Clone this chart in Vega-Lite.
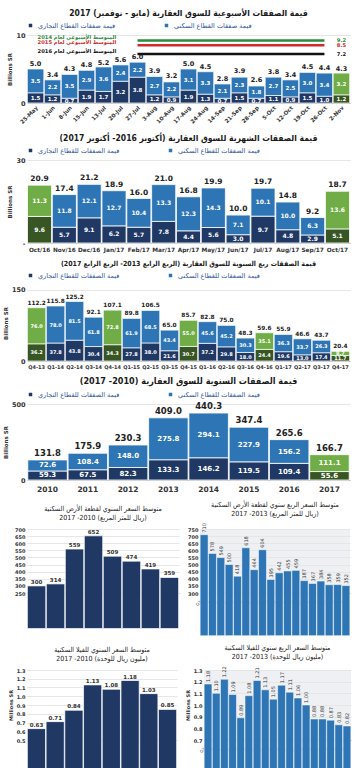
{
"$schema":"https://vega.github.io/schema/vega-lite/v6.json",
"background":"white",
"padding":{"left":3,"right":3,"top":8,"bottom":0},
"spacing":8,
"align":"each",
"resolve":{"scale":{"color":"independent"},"legend":{"color":"independent"}},
"config":{
 "view":{"stroke":null},
 "font":"DejaVu Sans",
 "axis":{"labelFont":"DejaVu Sans","titleFont":"DejaVu Sans","labelColor":"#333333","titleColor":"#333333","domain":false,"ticks":false,"gridColor":"#e6e6e6","titleFontWeight":"bold"},
 "axisX":{"grid":false,"domain":true,"domainColor":"#bbbbbb"},
 "title":{"font":"DejaVu Sans Condensed, DejaVu Sans","color":"#1a1a1a"},
 "legend":{"title":" ","titleOrient":"left","titlePadding":60,"titleFontSize":4,"orient":"top","direction":"horizontal","symbolType":"square","symbolSize":25,"labelFontSize":6.5,"labelColor":"#2e5597","columnPadding":45,"padding":0,"offset":4}
},
"vconcat":[
{
 "title":{"text":"قيمة الصفقات الأسبوعية للسوق العقارية (مايو - نوفمبر) 2017","fontSize":8.5,"fontWeight":"bold","offset":5},
 "width":323,"height":68,
 "data":{"values":[
  {"w":"25-May","com":1.5,"res":3.5,"total":5.0,"hl":false},
  {"w":"1-Jun","com":1.2,"res":2.2,"total":3.4,"hl":false},
  {"w":"8-Jun","com":0.7,"res":3.5,"total":4.3,"hl":false},
  {"w":"15-Jun","com":1.9,"res":2.9,"total":4.8,"hl":false},
  {"w":"13-Jul","com":1.7,"res":3.6,"total":5.2,"hl":false},
  {"w":"20-Jul","com":3.2,"res":2.4,"total":5.6,"hl":false},
  {"w":"27-Jul","com":3.8,"res":2.2,"total":6.0,"hl":false},
  {"w":"3-Aug","com":1.2,"res":2.7,"total":3.9,"hl":false},
  {"w":"10-Aug","com":0.9,"res":2.2,"total":3.2,"hl":false},
  {"w":"17-Aug","com":1.9,"res":3.1,"total":5.0,"hl":false},
  {"w":"24-Aug","com":1.3,"res":3.3,"total":4.5,"hl":false},
  {"w":"14-Sep","com":0.7,"res":2.1,"total":2.8,"hl":false},
  {"w":"21-Sep","com":1.5,"res":2.3,"total":3.9,"hl":false},
  {"w":"28-Sep","com":0.7,"res":1.8,"total":2.6,"hl":false},
  {"w":"5-Oct","com":1.1,"res":2.7,"total":3.8,"hl":false},
  {"w":"12-Oct","com":0.9,"res":2.5,"total":3.4,"hl":false},
  {"w":"19-Oct","com":1.5,"res":3.0,"total":4.5,"hl":false},
  {"w":"26-Oct","com":1.0,"res":3.4,"total":4.4,"hl":false},
  {"w":"2-Nov","com":1.2,"res":3.2,"total":4.3,"hl":true}
 ]},
 "resolve":{"scale":{"color":"independent"}},
 "layer":[
  {"transform":[{"fold":["com","res"],"as":["sector","value"]}],
   "mark":{"type":"bar","stroke":"white","strokeWidth":0.7},
   "encoding":{
    "x":{"field":"w","type":"ordinal","scale":{"domain":["25-May","1-Jun","8-Jun","15-Jun","13-Jul","20-Jul","27-Jul","3-Aug","10-Aug","17-Aug","24-Aug","14-Sep","21-Sep","28-Sep","5-Oct","12-Oct","19-Oct","26-Oct","2-Nov"],"paddingInner":0.03,"paddingOuter":0.02},"axis":{"title":null,"labelAngle":-45,"labelFontSize":5.5,"labelFontWeight":"bold","labelPadding":2}},
    "y":{"field":"value","type":"quantitative","stack":"zero","scale":{"domain":[0,10]},"axis":{"title":"Billions SR","titleFontSize":5.5,"values":[0,2,4,6,8,10],"labelFontSize":6.5,"labelFontWeight":"bold","titlePadding":3}},
    "color":{"field":"sector","type":"nominal","scale":{"domain":["com","res"],"range":["#1f3864","#2e75b6"]},
      "condition":[{"test":"datum.hl && datum.sector=='res'","value":"#70ad47"},{"test":"datum.hl","value":"#375623"}],
      "legend":{"labelExpr":"datum.value=='com' ? 'قيمة صفقات القطاع التجاري' : 'قيمة صفقات القطاع السكني'"}},
    "order":{"field":"sector","sort":"ascending"}
   }},
  {"transform":[{"fold":["com","res"],"as":["sector","value"]},{"stack":"value","groupby":["w"],"sort":[{"field":"sector","order":"ascending"}],"as":["y0","y1"]},{"fold":["y0","y1"],"as":["edge","pos"]},{"aggregate":[{"op":"mean","field":"pos","as":"mid"}],"groupby":["w","sector","value"]}],
   "mark":{"type":"text","color":"white","fontSize":5.5,"fontWeight":"bold"},
   "encoding":{"x":{"field":"w","type":"ordinal"},"y":{"field":"mid","type":"quantitative"},"text":{"field":"value","type":"quantitative","format":".1f"}}},
  {"mark":{"type":"text","dy":-5,"fontSize":6.5,"fontWeight":"bold","color":"#222222"},
   "encoding":{"x":{"field":"w","type":"ordinal"},"y":{"field":"total","type":"quantitative"},"text":{"field":"total","type":"quantitative","format":".1f"}}},
  {"data":{"values":[{"yr":"2014","avg":9.2,"label":"المتوسط الأسبوعي لعام 2014"},{"yr":"2015","avg":8.5,"label":"المتوسط الأسبوعي لعام 2015"},{"yr":"2016","avg":7.2,"label":"المتوسط الأسبوعي لعام 2016"}]},
   "layer":[
    {"mark":{"type":"rule","strokeWidth":2.5},
     "encoding":{"x":{"datum":"27-Jul","type":"ordinal"},"x2":{"datum":"26-Oct"},"y":{"field":"avg","type":"quantitative"},"color":{"field":"yr","type":"nominal","scale":{"domain":["2014","2015","2016"],"range":["#2e8b3e","#d02b2b","#111111"]},"legend":null}}},
    {"mark":{"type":"text","fontSize":5.2,"fontWeight":"bold"},
     "encoding":{"x":{"datum":"2-Nov","type":"ordinal"},"y":{"field":"avg","type":"quantitative"},"text":{"field":"avg","type":"quantitative","format":".1f"},"color":{"field":"yr","type":"nominal","scale":{"domain":["2014","2015","2016"],"range":["#2e8b3e","#d02b2b","#111111"]},"legend":null}}},
    {"mark":{"type":"text","fontSize":5.2,"align":"left","dx":2,"dy":-3,"fontWeight":"bold"},
     "encoding":{"x":{"datum":"25-May","type":"ordinal"},"y":{"field":"avg","type":"quantitative"},"text":{"field":"label"},"color":{"field":"yr","type":"nominal","scale":{"domain":["2014","2015","2016"],"range":["#2e8b3e","#d02b2b","#111111"]},"legend":null}}}
   ]}
 ]
},
{
 "title":{"text":"قيمة الصفقات الشهرية للسوق العقارية (أكتوبر 2016- أكتوبر 2017)","fontSize":8.5,"fontWeight":"bold","offset":5},
 "width":323,"height":83,
 "data":{"values":[
  {"m":"Oct/16","com":9.6,"res":11.3,"total":20.9,"hl":true},
  {"m":"Nov/16","com":5.7,"res":11.8,"total":17.4,"hl":false},
  {"m":"Dec/16","com":9.1,"res":12.1,"total":21.2,"hl":false},
  {"m":"Jan/17","com":6.2,"res":12.7,"total":18.9,"hl":false},
  {"m":"Feb/17","com":5.7,"res":10.4,"total":16.0,"hl":false},
  {"m":"Mar/17","com":7.8,"res":13.3,"total":21.0,"hl":false},
  {"m":"Apr/17","com":4.4,"res":12.3,"total":16.8,"hl":false},
  {"m":"May/17","com":5.6,"res":14.3,"total":19.9,"hl":false},
  {"m":"Jun/17","com":3.0,"res":7.1,"total":10.0,"hl":false},
  {"m":"Jul/17","com":9.7,"res":10.1,"total":19.7,"hl":false},
  {"m":"Aug/17","com":4.8,"res":10.0,"total":14.8,"hl":false},
  {"m":"Sep/17","com":2.9,"res":6.3,"total":9.2,"hl":false},
  {"m":"Oct/17","com":5.1,"res":13.6,"total":18.7,"hl":true}
 ]},
 "resolve":{"scale":{"color":"independent"}},
 "layer":[
  {"transform":[{"fold":["com","res"],"as":["sector","value"]}],
   "mark":{"type":"bar","stroke":"white","strokeWidth":0.8},
   "encoding":{
    "x":{"field":"m","type":"ordinal","scale":{"domain":["Oct/16","Nov/16","Dec/16","Jan/17","Feb/17","Mar/17","Apr/17","May/17","Jun/17","Jul/17","Aug/17","Sep/17","Oct/17"],"paddingInner":0.03,"paddingOuter":0.02},"axis":{"title":null,"labelAngle":0,"labelFontSize":5.8,"labelFontWeight":"bold","labelPadding":3}},
    "y":{"field":"value","type":"quantitative","stack":"zero","scale":{"domain":[0,30]},"axis":{"title":"Billions SR","titleFontSize":5.5,"values":[0,5,10,15,20,25,30],"labelExpr":"datum.value==0 ? '-' : datum.label","labelFontSize":6.5,"labelFontWeight":"bold","titlePadding":3}},
    "color":{"field":"sector","type":"nominal","scale":{"domain":["com","res"],"range":["#1f3864","#2e75b6"]},
      "condition":[{"test":"datum.hl && datum.sector=='res'","value":"#70ad47"},{"test":"datum.hl","value":"#375623"}],
      "legend":{"labelExpr":"datum.value=='com' ? 'قيمة الصفقات للقطاع التجاري' : 'قيمة الصفقات للقطاع السكني'"}},
    "order":{"field":"sector","sort":"ascending"}
   }},
  {"transform":[{"fold":["com","res"],"as":["sector","value"]},{"stack":"value","groupby":["m"],"sort":[{"field":"sector","order":"ascending"}],"as":["y0","y1"]},{"fold":["y0","y1"],"as":["edge","pos"]},{"aggregate":[{"op":"mean","field":"pos","as":"mid"}],"groupby":["m","sector","value"]}],
   "mark":{"type":"text","color":"white","fontSize":6,"fontWeight":"bold"},
   "encoding":{"x":{"field":"m","type":"ordinal"},"y":{"field":"mid","type":"quantitative"},"text":{"field":"value","type":"quantitative","format":".1f"}}},
  {"mark":{"type":"text","dy":-6,"fontSize":7.5,"fontWeight":"bold","color":"#222222"},
   "encoding":{"x":{"field":"m","type":"ordinal"},"y":{"field":"total","type":"quantitative"},"text":{"field":"total","type":"quantitative","format":".1f"}}}
 ]
},
{
 "title":{"text":"قيمة الصفقات ربع السنوية للسوق العقارية (الربع الرابع 2013- الربع الرابع 2017)","fontSize":7,"fontWeight":"bold","offset":5},
 "width":323,"height":76,
 "data":{"values":[
  {"q":"Q4-13","com":36.2,"res":76.0,"total":112.2,"hl":true},
  {"q":"Q1-14","com":37.8,"res":78.0,"total":115.8,"hl":false},
  {"q":"Q2-14","com":43.8,"res":81.5,"total":125.2,"hl":false},
  {"q":"Q3-14","com":30.4,"res":61.8,"total":92.1,"hl":false},
  {"q":"Q4-14","com":34.3,"res":72.8,"total":107.1,"hl":true},
  {"q":"Q1-15","com":27.8,"res":61.9,"total":89.8,"hl":false},
  {"q":"Q2-15","com":38.0,"res":68.5,"total":106.5,"hl":false},
  {"q":"Q3-15","com":21.6,"res":43.4,"total":65.0,"hl":false},
  {"q":"Q4-15","com":30.7,"res":55.0,"total":85.7,"hl":true},
  {"q":"Q1-16","com":37.2,"res":45.6,"total":82.8,"hl":false},
  {"q":"Q2-16","com":29.8,"res":45.2,"total":75.0,"hl":false},
  {"q":"Q3-16","com":18.0,"res":30.3,"total":48.3,"hl":false},
  {"q":"Q4-16","com":24.4,"res":35.1,"total":59.6,"hl":true},
  {"q":"Q1-17","com":19.6,"res":36.3,"total":55.9,"hl":false},
  {"q":"Q2-17","com":13.0,"res":33.7,"total":46.6,"hl":false},
  {"q":"Q3-17","com":17.4,"res":26.3,"total":43.7,"hl":false},
  {"q":"Q4-17","com":11.7,"res":8.7,"total":20.4,"hl":true}
 ]},
 "resolve":{"scale":{"color":"independent"}},
 "layer":[
  {"transform":[{"fold":["com","res"],"as":["sector","value"]}],
   "mark":{"type":"bar","stroke":"white","strokeWidth":0.7},
   "encoding":{
    "x":{"field":"q","type":"ordinal","scale":{"domain":["Q4-13","Q1-14","Q2-14","Q3-14","Q4-14","Q1-15","Q2-15","Q3-15","Q4-15","Q1-16","Q2-16","Q3-16","Q4-16","Q1-17","Q2-17","Q3-17","Q4-17"],"paddingInner":0.03,"paddingOuter":0.02},"axis":{"title":null,"labelAngle":0,"labelFontSize":5,"labelFontWeight":"bold","labelPadding":3}},
    "y":{"field":"value","type":"quantitative","stack":"zero","scale":{"domain":[0,150]},"axis":{"title":"Billions SR","titleFontSize":5.5,"values":[0,30,60,90,120,150],"labelFontSize":6.5,"labelFontWeight":"bold","titlePadding":3}},
    "color":{"field":"sector","type":"nominal","scale":{"domain":["com","res"],"range":["#1f3864","#2e75b6"]},
      "condition":[{"test":"datum.hl && datum.sector=='res'","value":"#70ad47"},{"test":"datum.hl","value":"#375623"}],
      "legend":{"labelExpr":"datum.value=='com' ? 'قيمة الصفقات للقطاع التجاري' : 'قيمة الصفقات للقطاع السكني'"}},
    "order":{"field":"sector","sort":"ascending"}
   }},
  {"transform":[{"fold":["com","res"],"as":["sector","value"]},{"stack":"value","groupby":["q"],"sort":[{"field":"sector","order":"ascending"}],"as":["y0","y1"]},{"fold":["y0","y1"],"as":["edge","pos"]},{"aggregate":[{"op":"mean","field":"pos","as":"mid"}],"groupby":["q","sector","value"]}],
   "mark":{"type":"text","color":"white","fontSize":5,"fontWeight":"bold"},
   "encoding":{"x":{"field":"q","type":"ordinal"},"y":{"field":"mid","type":"quantitative"},"text":{"field":"value","type":"quantitative","format":".1f"}}},
  {"mark":{"type":"text","dy":-5,"fontSize":5.8,"fontWeight":"bold","color":"#222222"},
   "encoding":{"x":{"field":"q","type":"ordinal"},"y":{"field":"total","type":"quantitative"},"text":{"field":"total","type":"quantitative","format":".1f"}}}
 ]
},
{
 "title":{"text":"قيمة الصفقات السنوية للسوق العقارية (2010- 2017)","fontSize":9,"fontWeight":"bold","offset":5},
 "width":323,"height":76,
 "data":{"values":[
  {"y":"2010","com":59.3,"res":72.6,"total":131.8,"hl":false},
  {"y":"2011","com":67.5,"res":108.4,"total":175.9,"hl":false},
  {"y":"2012","com":82.3,"res":148.0,"total":230.3,"hl":false},
  {"y":"2013","com":133.3,"res":275.8,"total":409.0,"hl":false},
  {"y":"2014","com":146.2,"res":294.1,"total":440.3,"hl":false},
  {"y":"2015","com":119.5,"res":227.9,"total":347.4,"hl":false},
  {"y":"2016","com":109.4,"res":156.2,"total":265.6,"hl":false},
  {"y":"2017","com":55.6,"res":111.1,"total":166.7,"hl":true}
 ]},
 "resolve":{"scale":{"color":"independent"}},
 "layer":[
  {"transform":[{"fold":["com","res"],"as":["sector","value"]}],
   "mark":{"type":"bar","stroke":"white","strokeWidth":0.8},
   "encoding":{
    "x":{"field":"y","type":"ordinal","scale":{"paddingInner":0.02,"paddingOuter":0.02},"axis":{"title":null,"labelAngle":0,"labelFontSize":7.5,"labelFontWeight":"bold","labelPadding":5}},
    "y":{"field":"value","type":"quantitative","stack":"zero","scale":{"domain":[0,500]},"axis":{"title":"Billions SR","titleFontSize":5.5,"values":[0,100,200,300,400,500],"labelFontSize":6.5,"labelFontWeight":"bold","titlePadding":3}},
    "color":{"field":"sector","type":"nominal","scale":{"domain":["com","res"],"range":["#1f3864","#2e75b6"]},
      "condition":[{"test":"datum.hl && datum.sector=='res'","value":"#70ad47"},{"test":"datum.hl","value":"#375623"}],
      "legend":{"labelExpr":"datum.value=='com' ? 'قيمة الصفقات للقطاع التجاري' : 'قيمة الصفقات للقطاع السكني'"}},
    "order":{"field":"sector","sort":"ascending"}
   }},
  {"transform":[{"fold":["com","res"],"as":["sector","value"]},{"stack":"value","groupby":["y"],"sort":[{"field":"sector","order":"ascending"}],"as":["y0","y1"]},{"fold":["y0","y1"],"as":["edge","pos"]},{"aggregate":[{"op":"mean","field":"pos","as":"mid"}],"groupby":["y","sector","value"]}],
   "mark":{"type":"text","color":"white","fontSize":7,"fontWeight":"bold"},
   "encoding":{"x":{"field":"y","type":"ordinal"},"y":{"field":"mid","type":"quantitative"},"text":{"field":"value","type":"quantitative","format":".1f"}}},
  {"mark":{"type":"text","dy":-7,"fontSize":8.5,"fontWeight":"bold","color":"#222222"},
   "encoding":{"x":{"field":"y","type":"ordinal"},"y":{"field":"total","type":"quantitative"},"text":{"field":"total","type":"quantitative","format":".1f"}}}
 ]
},
{
 "spacing":8,
 "hconcat":[
  {
   "title":{"text":["متوسط السعر السنوي لقطعة الأرض السكنية","‏(ريال للمتر المربع) 2010- 2017"],"fontSize":7,"fontWeight":"normal","offset":6,"lineHeight":9},
   "width":152,"height":64,
   "data":{"values":[{"yr":"2010","v":300},{"yr":"2011","v":314},{"yr":"2012","v":559},{"yr":"2013","v":652},{"yr":"2014","v":509},{"yr":"2015","v":474},{"yr":"2016","v":419},{"yr":"2017","v":359}]},
   "encoding":{
    "x":{"field":"yr","type":"ordinal","scale":{"paddingInner":0.03,"paddingOuter":0.02},"axis":{"title":null,"labelAngle":0,"labelFontSize":5.5,"labelFontWeight":"bold","labelPadding":3}},
    "y":{"field":"v","type":"quantitative","scale":{"domain":[250,700],"zero":false},"axis":{"title":null,"values":[250,300,350,400,450,500,550,600,650,700],"labelFontSize":5,"labelFontWeight":"bold"}}
   },
   "layer":[
    {"mark":{"type":"bar","color":"#1f3864","stroke":"white","strokeWidth":0.7}},
    {"mark":{"type":"text","dy":-4,"fontSize":5.5,"fontWeight":"bold","color":"#333333"},"encoding":{"text":{"field":"v","type":"quantitative"}}}
   ]
  },
  {
   "title":{"text":["متوسط السعر الربع سنوي لقطعة الأرض السكنية","‏(ريال للمتر المربع) 2013- 2017"],"fontSize":7,"fontWeight":"normal","offset":6,"lineHeight":9},
   "width":150,"height":64,
   "view":{"fill":"#eef0f4"},
   "data":{"values":[{"q":"Q3-13","v":710},{"q":"Q4-13","v":578},{"q":"Q1-14","v":549},{"q":"Q2-14","v":500},{"q":"Q3-14","v":418},{"q":"Q4-14","v":618},{"q":"Q1-15","v":464},{"q":"Q2-15","v":604},{"q":"Q3-15","v":395},{"q":"Q4-15","v":442},{"q":"Q1-16","v":455},{"q":"Q2-16","v":459},{"q":"Q3-16","v":387},{"q":"Q4-16","v":367},{"q":"Q1-17","v":384},{"q":"Q2-17","v":358},{"q":"Q3-17","v":359},{"q":"Q4-17","v":352}]},
   "encoding":{
    "x":{"field":"q","type":"ordinal","sort":null,"scale":{"paddingInner":0.05,"paddingOuter":0.02},"axis":{"title":null,"labelAngle":-45,"labelFontSize":4,"labelPadding":2}},
    "y":{"field":"v","type":"quantitative","scale":{"domain":[300,750],"zero":false},"axis":{"title":null,"values":[300,350,400,450,500,550,600,650,700,750],"labelFontSize":5,"labelFontWeight":"bold"}}
   },
   "layer":[
    {"mark":{"type":"bar","color":"#2e75b6","stroke":"white","strokeWidth":0.5}},
    {"mark":{"type":"text","angle":270,"align":"left","baseline":"middle","dx":2,"fontSize":5,"color":"#333333"},"encoding":{"text":{"field":"v","type":"quantitative"}}}
   ]
  }
 ]
},
{
 "spacing":8,
 "hconcat":[
  {
   "title":{"text":["متوسط السعر السنوي للفيلا السكنية","‏(مليون ريال للوحدة) 2010- 2017"],"fontSize":7,"fontWeight":"normal","offset":6,"lineHeight":9},
   "width":150,"height":70,
   "data":{"values":[{"yr":"2010","v":0.63},{"yr":"2011","v":0.71},{"yr":"2012","v":0.84},{"yr":"2013","v":1.13},{"yr":"2014","v":1.08},{"yr":"2015","v":1.18},{"yr":"2016","v":1.03},{"yr":"2017","v":0.85}]},
   "encoding":{
    "x":{"field":"yr","type":"ordinal","scale":{"paddingInner":0.03,"paddingOuter":0.02},"axis":{"title":null,"labelAngle":0,"labelFontSize":5.5,"labelFontWeight":"bold","labelPadding":3}},
    "y":{"field":"v","type":"quantitative","scale":{"domain":[0.5,1.3],"zero":false},"axis":{"title":"Millions SR","titleFontSize":5,"values":[0.5,0.6,0.7,0.8,0.9,1.0,1.1,1.2,1.3],"format":".1f","labelFontSize":5,"labelFontWeight":"bold","titlePadding":3}}
   },
   "layer":[
    {"mark":{"type":"bar","color":"#1f3864","stroke":"white","strokeWidth":0.7}},
    {"mark":{"type":"text","dy":-4,"fontSize":5.5,"fontWeight":"bold","color":"#333333"},"encoding":{"text":{"field":"v","type":"quantitative","format":".2f"}}}
   ]
  },
  {
   "title":{"text":["متوسط السعر الربع سنوي للفيلا السكنية","‏(مليون ريال للوحدة) 2013- 2017"],"fontSize":7,"fontWeight":"normal","offset":6,"lineHeight":9},
   "width":147,"height":70,
   "view":{"fill":"#eef0f4"},
   "data":{"values":[{"q":"Q3-13","v":1.18},{"q":"Q4-13","v":1.10},{"q":"Q1-14","v":1.22},{"q":"Q2-14","v":1.09},{"q":"Q3-14","v":0.89},{"q":"Q4-14","v":1.08},{"q":"Q1-15","v":1.21},{"q":"Q2-15","v":1.13},{"q":"Q3-15","v":1.05},{"q":"Q4-15","v":1.17},{"q":"Q1-16","v":1.11},{"q":"Q2-16","v":1.06},{"q":"Q3-16","v":1.00},{"q":"Q4-16","v":0.88},{"q":"Q1-17","v":0.88},{"q":"Q2-17","v":0.87},{"q":"Q3-17","v":0.83},{"q":"Q4-17","v":0.82}]},
   "encoding":{
    "x":{"field":"q","type":"ordinal","sort":null,"scale":{"paddingInner":0.05,"paddingOuter":0.02},"axis":{"title":null,"labelAngle":-45,"labelFontSize":4,"labelPadding":2}},
    "y":{"field":"v","type":"quantitative","scale":{"domain":[0.7,1.3],"zero":false},"axis":{"title":"Millions SR","titleFontSize":5,"values":[0.7,0.8,0.9,1.0,1.1,1.2,1.3],"format":".1f","labelFontSize":5,"labelFontWeight":"bold","titlePadding":3}}
   },
   "layer":[
    {"mark":{"type":"bar","color":"#2e75b6","stroke":"white","strokeWidth":0.5}},
    {"mark":{"type":"text","angle":270,"align":"left","baseline":"middle","dx":2,"fontSize":5,"color":"#333333"},"encoding":{"text":{"field":"v","type":"quantitative","format":".2f"}}}
   ]
  }
 ]
}
]
}
